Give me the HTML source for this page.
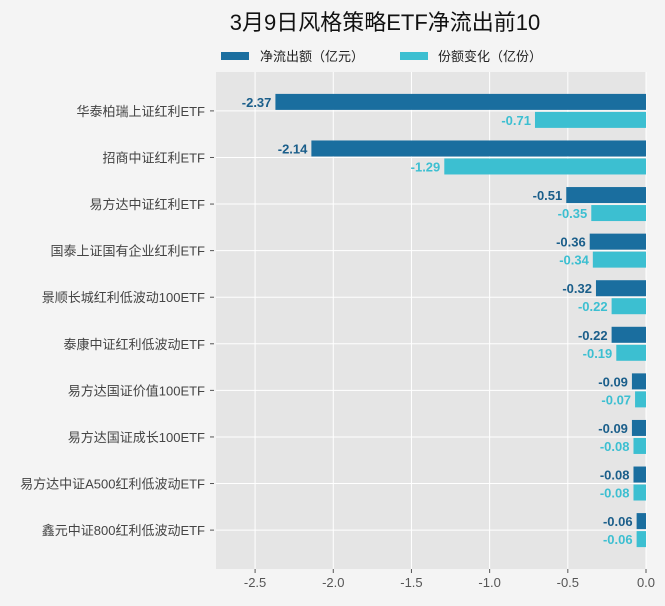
<!DOCTYPE html>
<html><head><meta charset="utf-8"><style>
body{margin:0;background:#f4f4f4;width:665px;height:606px;overflow:hidden;font-family:"Liberation Sans","Noto Sans CJK SC",sans-serif}
svg{display:block}
</style></head><body>
<svg id="c" width="665" height="606" xmlns="http://www.w3.org/2000/svg"></svg>
<script>
const categories=["华泰柏瑞上证红利ETF","招商中证红利ETF","易方达中证红利ETF","国泰上证国有企业红利ETF","景顺长城红利低波动100ETF","泰康中证红利低波动ETF","易方达国证价值100ETF","易方达国证成长100ETF","易方达中证A500红利低波动ETF","鑫元中证800红利低波动ETF"];
const netOutflow=[-2.37,-2.14,-0.51,-0.36,-0.32,-0.22,-0.09,-0.09,-0.08,-0.06];
const shareChange=[-0.71,-1.29,-0.35,-0.34,-0.22,-0.19,-0.07,-0.08,-0.08,-0.06];
const ticks=[-2.5,-2.0,-1.5,-1.0,-0.5,0.0];
const tickLabels=["-2.5","-2.0","-1.5","-1.0","-0.5","0.0"];
const svg=document.getElementById('c');const NS="http://www.w3.org/2000/svg";
function mk(t,a,p){const e=document.createElementNS(NS,t);for(const k in a)e.setAttribute(k,a[k]);(p||svg).appendChild(e);return e;}
const L=216,R=646,T=72,B=569,xmin=-2.75,xmax=0;
const x=v=>L+(v-xmin)/(xmax-xmin)*(R-L);
const band=(B-T)/(categories.length+0.67);
const y=i=>T+band*(i+0.835);
let e=mk('rect',{x:L,y:T,width:R-L,height:B-T,fill:'#e5e5e5'});


ticks.forEach((t,i)=>{
 let g=mk('line',{x1:x(t),x2:x(t),y1:T,y2:B,stroke:'#fff','stroke-width':1});
 
 
 mk('line',{x1:x(t),x2:x(t),y1:B,y2:B+4,stroke:'#555'});
 let tx=mk('text',{x:x(t),y:B+18,'text-anchor':'middle','font-size':13,fill:'#555'});tx.textContent=tickLabels[i];
 
 
});
categories.forEach((c,i)=>{
 const cy=y(i);
 let g=mk('line',{x1:L,x2:R,y1:cy,y2:cy,stroke:'#fff'});
 
 
 mk('line',{x1:L-6,x2:L-2,y1:cy,y2:cy,stroke:'#555'});
 let t=mk('text',{x:L-11,y:cy+5,'text-anchor':'end','font-size':13,fill:'#444'});t.textContent=c;
 
 
 const v1=netOutflow[i],v2=shareChange[i];
 let b1=mk('rect',{x:x(v1),y:cy-17,width:x(0)-x(v1),height:16,fill:'#1a6e9f'});
 
 
 let b2=mk('rect',{x:x(v2),y:cy+1,width:x(0)-x(v2),height:16,fill:'#3cbfd1'});
 
 
 let l1=mk('text',{x:x(v1)-4,y:cy-4,'text-anchor':'end','font-size':13,'font-weight':'bold',fill:'#1a5e8a'});l1.textContent=v1.toFixed(2);
 
 
 let l2=mk('text',{x:x(v2)-4,y:cy+14,'text-anchor':'end','font-size':13,'font-weight':'bold',fill:'#3cbfd1'});l2.textContent=v2.toFixed(2);
 
 
});
let ti=mk('text',{x:385,y:30,'text-anchor':'middle','font-size':22,fill:'#111'});ti.textContent="3月9日风格策略ETF净流出前10";


let lg=mk('g',{});


let r1=mk('rect',{x:221,y:52,width:28,height:8,fill:'#1a6e9f'},lg);


let t1=mk('text',{x:260,y:61,'font-size':13,fill:'#222'},lg);t1.textContent="净流出额（亿元）";


let r2=mk('rect',{x:400,y:52,width:28,height:8,fill:'#3cbfd1'},lg);


let t2=mk('text',{x:438,y:61,'font-size':13,fill:'#222'},lg);t2.textContent="份额变化（亿份）";


</script>
</body></html>
